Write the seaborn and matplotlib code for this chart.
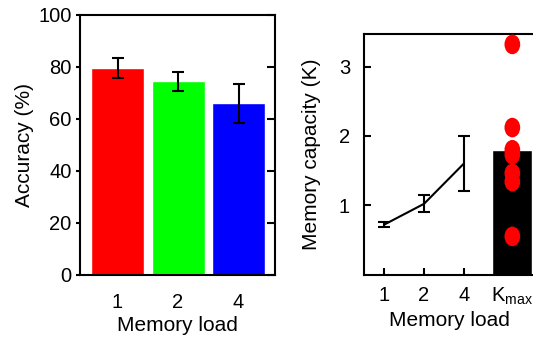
import numpy as np
import pandas as pd
import seaborn as sns
import matplotlib
matplotlib.use("Agg")
import matplotlib.pyplot as plt
from matplotlib.path import Path

# Accuracy by memory load
loads = ["1", "2", "4"]
accuracy = [79.6, 74.5, 66.0]
accuracy_err = [4.0, 3.6, 7.5]
bar_colors = ["#ff0000", "#00ff00", "#0000ff"]

# Memory capacity (K) by memory load
capacity = [0.72, 1.02, 1.60]
capacity_err = [0.04, 0.12, 0.40]
kmax_mean = 1.80
kmax_subjects = [3.32, 2.12, 1.80, 1.73, 1.46, 1.34, 0.55]
cap_ticklabels = ["1", "2", "4", r"K$_\mathregular{max}$"]

sns.set_theme(style="white")
plt.rcParams["font.family"] = ["Liberation Sans", "DejaVu Sans"]
plt.rcParams["mathtext.fontset"] = "custom"
plt.rcParams["mathtext.rm"] = "Liberation Sans"
for key in ["text.color", "axes.labelcolor", "xtick.color", "ytick.color"]:
    plt.rcParams[key] = "black"

LABEL_FS = 15
TICK_FS = 14.5

fig = plt.figure(figsize=(5.33, 3.38), dpi=100)

# ---- left panel: accuracy bars ----
axL = fig.add_axes([80 / 533, 1 - 274.5 / 338, (274.5 - 80) / 533, (274.5 - 15) / 338])
acc_df = pd.DataFrame({"load": loads, "acc": accuracy})
sns.barplot(data=acc_df, x="load", y="acc", hue="load", palette=bar_colors,
            order=loads, hue_order=loads, width=0.876, errorbar=None,
            legend=False, saturation=1, ax=axL)
axL.errorbar(range(len(loads)), accuracy, yerr=accuracy_err, fmt="none",
             ecolor="black", elinewidth=1.5, capsize=4.3, capthick=1.5)
axL.set_xlim(-0.62, 2.595)
axL.set_ylim(0, 100)
axL.set_yticks([0, 20, 40, 60, 80, 100])
axL.set_xlabel("Memory load", fontsize=LABEL_FS, labelpad=3)
axL.set_ylabel("Accuracy (%)", fontsize=LABEL_FS, labelpad=3)
for s in axL.spines.values():
    s.set_visible(True)
    s.set_color("black")
    s.set_linewidth(1.5)
axL.tick_params(axis="y", which="major", left=True, direction="out",
                length=3, width=1.5, pad=3, labelsize=TICK_FS)
axL.tick_params(axis="x", bottom=False, pad=7, labelsize=TICK_FS)
sec = axL.secondary_yaxis("right")
sec.set_yticks([0, 20, 40, 60, 80, 100])
sec.tick_params(direction="in", length=6, width=1.5, labelright=False)
sec.spines["right"].set_visible(False)

# ---- right panel: memory capacity ----
axR = fig.add_axes([364 / 533, 1 - 274.5 / 338, (535 - 364) / 533, (274.5 - 34) / 338])
xs = [0, 1, 2]
kx = 3.22
cap_df = pd.DataFrame({"x": xs, "k": capacity})
axR.bar([kx], [kmax_mean], width=1.0, color="black", zorder=1)
sns.lineplot(data=cap_df, x="x", y="k", color="black", linewidth=1.5, ax=axR, zorder=2)
axR.errorbar(xs, capacity, yerr=capacity_err, fmt="none", ecolor="black",
             elinewidth=1.5, capsize=4.3, capthick=1.5, zorder=2)
circ = Path.unit_circle()
ellipse = Path(circ.vertices * np.array([0.8, 1.0]), circ.codes)
sns.scatterplot(x=[kx] * len(kmax_subjects), y=kmax_subjects, marker=ellipse,
                s=200, color="#ff0000", edgecolor="none", ax=axR, zorder=3)
axR.set_xlim(-0.51, 3.79)
axR.set_ylim(0, 3.47)
axR.set_yticks([1, 2, 3])
axR.set_xticks(xs + [kx])
axR.set_xticklabels(cap_ticklabels)
axR.set_xlabel("Memory load", fontsize=LABEL_FS, labelpad=3)
axR.set_ylabel("Memory capacity (K)", fontsize=LABEL_FS, labelpad=13)
for name, s in axR.spines.items():
    s.set_color("black")
    s.set_linewidth(1.5)
    s.set_visible(name != "right")
axR.tick_params(axis="both", direction="in", length=5, width=1.5,
                left=True, bottom=True, labelsize=TICK_FS)
axR.tick_params(axis="y", pad=10)
axR.tick_params(axis="x", pad=8)

fig.savefig("out.png", dpi=100)
